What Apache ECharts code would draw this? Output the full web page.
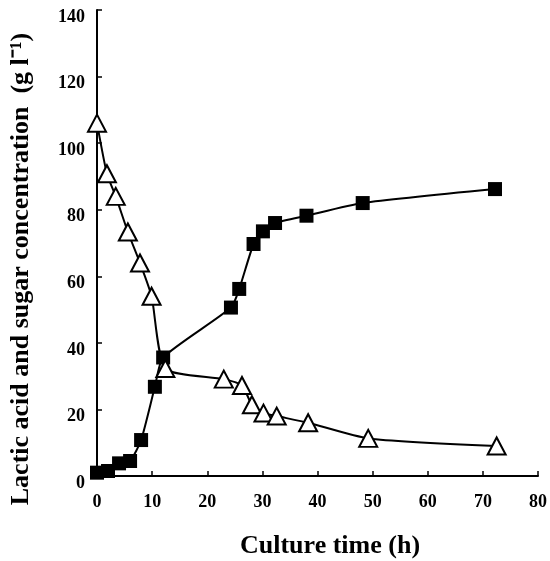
<!DOCTYPE html>
<html>
<head>
<meta charset="utf-8">
<script src="https://cdn.jsdelivr.net/npm/echarts@6/dist/echarts.min.js"></script>
<style>
html,body{margin:0;padding:0;background:#fff;}
#chart{width:550px;height:561px;}
</style>
</head>
<body>
<div id="chart"></div>
<script>
// Lactic acid (filled squares)
var lacticTime = [0, 2, 4, 6, 8, 10.5, 12, 24.3, 25.8, 28.4, 30.1, 32.3, 38, 48.2, 72.2];
var lacticConc = [1, 1.5, 3.8, 4.5, 10.8, 26.8, 35.6, 50.6, 56.2, 69.7, 73.5, 76, 78.2, 82, 86.2];
// Sugar (open triangles)
var sugarTime = [0, 1.8, 3.4, 5.6, 7.8, 9.9, 12.4, 23, 26.3, 28.1, 30.2, 32.6, 38.3, 49.2, 72.5];
var sugarConc = [106, 90.8, 84, 73.3, 64, 54, 32.3, 29.1, 27.2, 21.4, 18.9, 18, 16, 11.3, 9];
// Axis ticks
var xTicks = [0, 80, 10];
var yTicks = [0, 140, 20];

function pairs(xs, ys) {
  var out = [];
  for (var i = 0; i < xs.length; i++) out.push([xs[i], ys[i]]);
  return out;
}

var FONT = 'Liberation Serif';
var chart = echarts.init(document.getElementById('chart'), null, {renderer: 'canvas'});
var axisCommon = {
  axisLine: {show: true, onZero: false, lineStyle: {color: '#000', width: 2}},
  axisTick: {show: true, inside: true, length: 5, lineStyle: {color: '#000', width: 1.5}},
  splitLine: {show: false},
  axisLabel: {color: '#000', fontFamily: FONT, fontWeight: 'bold', fontSize: 18}
};
chart.setOption({
  animation: false,
  backgroundColor: '#fff',
  grid: {left: 97, top: 10, right: 12, bottom: 85, containLabel: false},
  xAxis: Object.assign({}, axisCommon, {
    type: 'value', min: xTicks[0], max: xTicks[1], interval: xTicks[2],
    axisLabel: Object.assign({}, axisCommon.axisLabel, {margin: 17})
  }),
  yAxis: Object.assign({}, axisCommon, {
    type: 'value', min: yTicks[0], max: yTicks[1], interval: yTicks[2],
    axisLabel: Object.assign({}, axisCommon.axisLabel, {margin: 12, verticalAlign: 'top', lineHeight: 14})
  }),
  graphic: [
    {
      type: 'text', left: 240, top: 533,
      style: {text: 'Culture time (h)', font: 'bold 26px "Liberation Serif"', fill: '#000'}
    },
    {
      type: 'text', x: 8, y: 269, rotation: Math.PI / 2,
      style: {
        text: 'Lactic acid and sugar concentration  (g l\u207B\u00B9)',
        font: 'bold 26px "Liberation Serif"', fill: '#000',
        align: 'center', verticalAlign: 'top'
      }
    }
  ],
  series: [
    {
      name: 'Lactic acid', type: 'line', data: pairs(lacticTime, lacticConc),
      smooth: 0.2, symbol: 'rect', symbolSize: 14,
      lineStyle: {color: '#000', width: 2},
      itemStyle: {color: '#000', borderColor: '#000', borderWidth: 0},
      z: 2
    },
    {
      name: 'Sugar', type: 'line', data: pairs(sugarTime, sugarConc),
      smooth: 0.2, symbol: 'triangle', symbolSize: [18, 17],
      lineStyle: {color: '#000', width: 2},
      itemStyle: {color: '#fff', borderColor: '#000', borderWidth: 2},
      z: 3
    }
  ]
});
</script>
</body>
</html>
